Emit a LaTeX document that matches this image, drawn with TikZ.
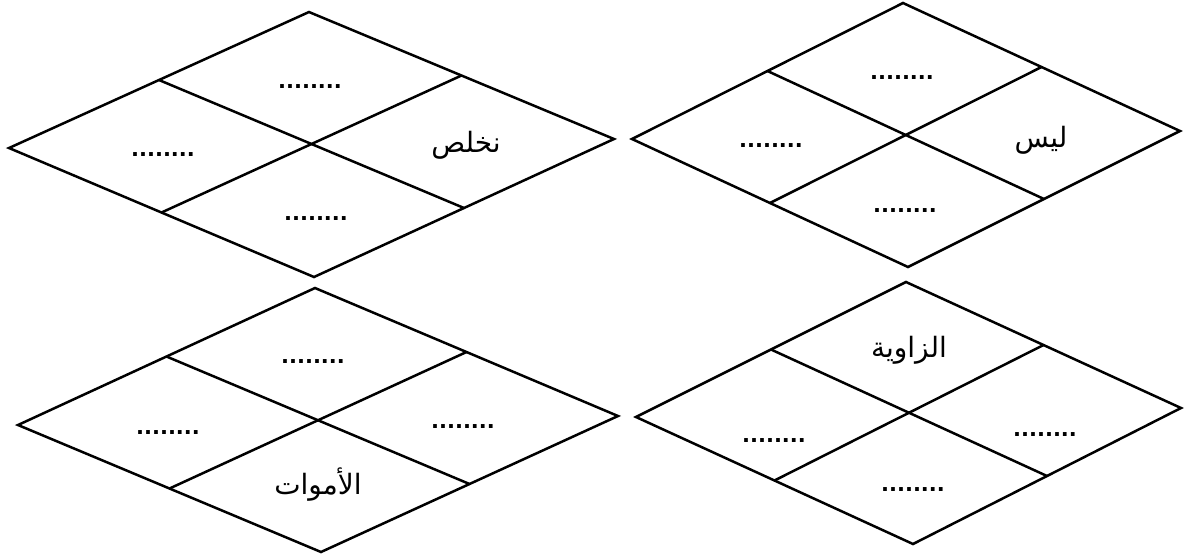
\documentclass[tikz,border=0pt]{standalone}
\usepackage{fontspec}
\usetikzlibrary{calc}
\setmainfont{DejaVu Sans}
\newfontfamily\arabicfont[Script=Arabic]{DejaVu Sans}
\TeXXeTstate=1
\tikzset{
  edge/.style={line width=1.25pt, line join=miter},
  dots/.style={inner sep=0pt, font=\bfseries\fontsize{10.5}{12}\selectfont},
  word/.style={inner sep=0pt, font=\arabicfont\fontsize{14}{17}\selectfont},
}
\newcommand{\rhomb}[5]{%
  % #1 name, #2 top, #3 left, #4 right, #5 bottom
  \coordinate (#1T) at #2;
  \coordinate (#1L) at #3;
  \coordinate (#1R) at #4;
  \coordinate (#1B) at #5;
  \coordinate (#1tl) at ($(#1T)!0.5!(#1L)$);
  \coordinate (#1tr) at ($(#1T)!0.5!(#1R)$);
  \coordinate (#1bl) at ($(#1B)!0.5!(#1L)$);
  \coordinate (#1br) at ($(#1B)!0.5!(#1R)$);
  \draw[edge] (#1T) -- (#1R) -- (#1B) -- (#1L) -- cycle;
  \draw[edge] (#1tl) -- (#1br);
  \draw[edge] (#1tr) -- (#1bl);
}
\begin{document}
\begin{tikzpicture}[x=0.5pt,y=-0.5pt]
\useasboundingbox (0,0) rectangle (1184,559);
\fill[white] (0,0) rectangle (1184,559);
% top-left
\rhomb{a}{(309,12)}{(9,148)}{(614,139)}{(314,277)}
\node[dots] (a1) at (310,87) {........};
\node[dots] (a2) at (163,155) {........};
\node[word] (a3) at (466,145) {\beginR نخلص\endR};
\node[dots] (a4) at (316,219) {........};
% top-right
\rhomb{b}{(903,3)}{(632,139)}{(1180,131)}{(908,267)}
\node[dots] (b1) at (902,78) {........};
\node[dots] (b2) at (771,146) {........};
\node[word] (b3) at (1041,140) {\beginR ليس\endR};
\node[dots] (b4) at (905,211) {........};
% bottom-left
\rhomb{c}{(315,288)}{(18,425)}{(618,416)}{(321,552)}
\node[dots] (c1) at (313,362) {........};
\node[dots] (c2) at (168,433) {........};
\node[dots] (c3) at (463,427) {........};
\node[word] (c4) at (318,485) {\beginR الأموات\endR};
% bottom-right
\rhomb{d}{(906,282)}{(636,417)}{(1181,408)}{(913,544)}
\node[word] (d1) at (909,350) {\beginR الزاوية\endR};
\node[dots] (d2) at (774,441) {........};
\node[dots] (d3) at (1045,435) {........};
\node[dots] (d4) at (913,490) {........};
\end{tikzpicture}
\end{document}
